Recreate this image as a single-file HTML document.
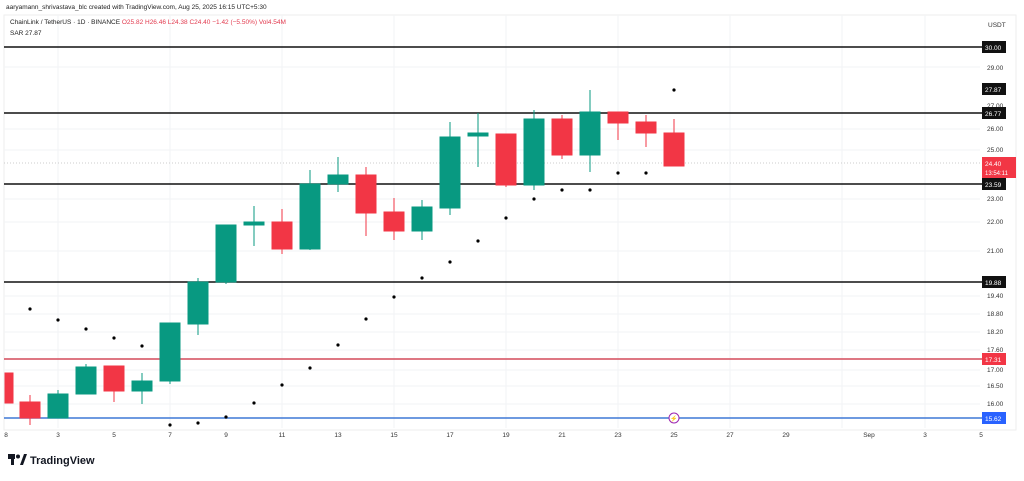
<!DOCTYPE html>
<html><head><meta charset="utf-8"><style>
body{margin:0;width:1024px;height:476px;background:#fff;overflow:hidden;font-family:"Liberation Sans",sans-serif}
svg text{font-family:"Liberation Sans",sans-serif}
</style></head><body>
<svg width="1024" height="476" viewBox="0 0 1024 476" xmlns="http://www.w3.org/2000/svg">
<text x="6" y="9" font-size="6.5" fill="#222">aaryamann_shrivastava_blc created with TradingView.com, Aug 25, 2025 16:15 UTC+5:30</text>
<rect x="4" y="15" width="1012" height="415" fill="none" stroke="#eee"/>
<g stroke="#f2f3f5" stroke-width="1">
<line x1="58" y1="15" x2="58" y2="428"/><line x1="170" y1="15" x2="170" y2="428"/><line x1="282" y1="15" x2="282" y2="428"/><line x1="394" y1="15" x2="394" y2="428"/><line x1="506" y1="15" x2="506" y2="428"/><line x1="618" y1="15" x2="618" y2="428"/><line x1="730" y1="15" x2="730" y2="428"/><line x1="842" y1="15" x2="842" y2="428"/><line x1="925" y1="15" x2="925" y2="428"/>
<line x1="4" y1="67" x2="980" y2="67"/><line x1="4" y1="129" x2="980" y2="129"/><line x1="4" y1="150" x2="980" y2="150"/><line x1="4" y1="199" x2="980" y2="199"/><line x1="4" y1="222" x2="980" y2="222"/><line x1="4" y1="251" x2="980" y2="251"/><line x1="4" y1="296" x2="980" y2="296"/><line x1="4" y1="314" x2="980" y2="314"/><line x1="4" y1="332" x2="980" y2="332"/><line x1="4" y1="350" x2="980" y2="350"/><line x1="4" y1="370" x2="980" y2="370"/><line x1="4" y1="386" x2="980" y2="386"/><line x1="4" y1="404" x2="980" y2="404"/>
</g>
<text x="10" y="24" font-size="6.5" fill="#222">ChainLink / TetherUS · 1D · BINANCE <tspan fill="#e23a4e">O25.82 H26.46 L24.38 C24.40 −1.42 (−5.50%) Vol4.54M</tspan></text>
<text x="10" y="35" font-size="6.5" fill="#222">SAR 27.87</text>
<line x1="4" y1="163" x2="980" y2="163" stroke="#ccc" stroke-dasharray="1,2"/>
<g stroke-width="1.4">
<line x1="4" y1="47" x2="982" y2="47" stroke="#111"/>
<line x1="4" y1="113" x2="982" y2="113" stroke="#111"/>
<line x1="4" y1="184" x2="982" y2="184" stroke="#111"/>
<line x1="4" y1="282" x2="982" y2="282" stroke="#111"/>
<line x1="4" y1="359" x2="982" y2="359" stroke="#d44a5a"/>
<line x1="4" y1="418" x2="982" y2="418" stroke="#3f78d6"/>
</g>
<g stroke-width="1">
<!-- candles: x, bodyTop, bodyBot, wickTop, wickBot, color -->
<g fill="#f23645" stroke="#f23645"><rect x="5" y="373" width="8" height="30"/></g>
<g fill="#f23645" stroke="#f23645"><line x1="30" y1="395" x2="30" y2="425"/><rect x="20" y="402" width="20" height="16"/></g>
<g fill="#089981" stroke="#089981"><line x1="58" y1="390" x2="58" y2="418"/><rect x="48" y="394" width="20" height="24"/></g>
<g fill="#089981" stroke="#089981"><line x1="86" y1="364" x2="86" y2="394"/><rect x="76" y="367" width="20" height="27"/></g>
<g fill="#f23645" stroke="#f23645"><line x1="114" y1="366" x2="114" y2="402"/><rect x="104" y="366" width="20" height="25"/></g>
<g fill="#089981" stroke="#089981"><line x1="142" y1="373" x2="142" y2="404"/><rect x="132" y="381" width="20" height="10"/></g>
<g fill="#089981" stroke="#089981"><line x1="170" y1="323" x2="170" y2="384"/><rect x="160" y="323" width="20" height="58"/></g>
<g fill="#089981" stroke="#089981"><line x1="198" y1="278" x2="198" y2="335"/><rect x="188" y="282" width="20" height="42"/></g>
<g fill="#089981" stroke="#089981"><line x1="226" y1="225" x2="226" y2="284"/><rect x="216" y="225" width="20" height="57"/></g>
<g fill="#089981" stroke="#089981"><line x1="254" y1="206" x2="254" y2="246"/><rect x="244" y="222" width="20" height="3"/></g>
<g fill="#f23645" stroke="#f23645"><line x1="282" y1="209" x2="282" y2="254"/><rect x="272" y="222" width="20" height="27"/></g>
<g fill="#089981" stroke="#089981"><line x1="310" y1="170" x2="310" y2="250"/><rect x="300" y="184" width="20" height="65"/></g>
<g fill="#089981" stroke="#089981"><line x1="338" y1="157" x2="338" y2="192"/><rect x="328" y="175" width="20" height="9"/></g>
<g fill="#f23645" stroke="#f23645"><line x1="366" y1="167" x2="366" y2="236"/><rect x="356" y="175" width="20" height="38"/></g>
<g fill="#f23645" stroke="#f23645"><line x1="394" y1="198" x2="394" y2="240"/><rect x="384" y="212" width="20" height="19"/></g>
<g fill="#089981" stroke="#089981"><line x1="422" y1="200" x2="422" y2="240"/><rect x="412" y="207" width="20" height="24"/></g>
<g fill="#089981" stroke="#089981"><line x1="450" y1="122" x2="450" y2="215"/><rect x="440" y="137" width="20" height="71"/></g>
<g fill="#089981" stroke="#089981"><line x1="478" y1="113" x2="478" y2="167"/><rect x="468" y="133" width="20" height="3"/></g>
<g fill="#f23645" stroke="#f23645"><line x1="506" y1="134" x2="506" y2="187"/><rect x="496" y="134" width="20" height="51"/></g>
<g fill="#089981" stroke="#089981"><line x1="534" y1="110" x2="534" y2="190"/><rect x="524" y="119" width="20" height="66"/></g>
<g fill="#f23645" stroke="#f23645"><line x1="562" y1="115" x2="562" y2="159"/><rect x="552" y="119" width="20" height="36"/></g>
<g fill="#089981" stroke="#089981"><line x1="590" y1="90" x2="590" y2="172"/><rect x="580" y="112" width="20" height="43"/></g>
<g fill="#f23645" stroke="#f23645"><line x1="618" y1="112" x2="618" y2="140"/><rect x="608" y="112" width="20" height="11"/></g>
<g fill="#f23645" stroke="#f23645"><line x1="646" y1="115" x2="646" y2="147"/><rect x="636" y="122" width="20" height="11"/></g>
<g fill="#f23645" stroke="#f23645"><line x1="674" y1="119" x2="674" y2="166"/><rect x="664" y="133" width="20" height="33"/></g>
</g>
<g fill="#000">
<circle cx="30" cy="309" r="1.6"/><circle cx="58" cy="320" r="1.6"/><circle cx="86" cy="329" r="1.6"/><circle cx="114" cy="338" r="1.6"/><circle cx="142" cy="346" r="1.6"/><circle cx="170" cy="425" r="1.6"/><circle cx="198" cy="423" r="1.6"/><circle cx="226" cy="417" r="1.6"/><circle cx="254" cy="403" r="1.6"/><circle cx="282" cy="385" r="1.6"/><circle cx="310" cy="368" r="1.6"/><circle cx="338" cy="345" r="1.6"/><circle cx="366" cy="319" r="1.6"/><circle cx="394" cy="297" r="1.6"/><circle cx="422" cy="278" r="1.6"/><circle cx="450" cy="262" r="1.6"/><circle cx="478" cy="241" r="1.6"/><circle cx="506" cy="218" r="1.6"/><circle cx="534" cy="199" r="1.6"/><circle cx="562" cy="190" r="1.6"/><circle cx="590" cy="190" r="1.6"/><circle cx="618" cy="173" r="1.6"/><circle cx="646" cy="173" r="1.6"/><circle cx="674" cy="90" r="1.6"/>
</g>
<circle cx="674" cy="418" r="5" fill="#fff" stroke="#9c27b0"/><text x="674" y="420.5" font-size="6" fill="#9c27b0" text-anchor="middle">⚡</text>
<g font-size="6.5" fill="#333">
<text x="988" y="27">USDT</text>
<text x="987" y="70">29.00</text><text x="987" y="108">27.00</text><text x="987" y="131">26.00</text><text x="987" y="152">25.00</text><text x="987" y="201">23.00</text><text x="987" y="224">22.00</text><text x="987" y="253">21.00</text><text x="987" y="298">19.40</text><text x="987" y="316">18.80</text><text x="987" y="334">18.20</text><text x="987" y="352">17.60</text><text x="987" y="372">17.00</text><text x="987" y="388">16.50</text><text x="987" y="406">16.00</text>
</g>
<g font-size="6.5" fill="#fff">
<rect x="982" y="41" width="24" height="12" fill="#111"/><text x="985" y="50">30.00</text>
<rect x="982" y="83" width="24" height="12" fill="#111"/><text x="985" y="92">27.87</text>
<rect x="982" y="107" width="24" height="12" fill="#111"/><text x="985" y="116">26.77</text>
<rect x="982" y="157" width="34" height="21" fill="#f23645"/><text x="985" y="166">24.40</text><text x="985" y="175" font-size="6">13:54:11</text>
<rect x="982" y="178" width="24" height="12" fill="#111"/><text x="985" y="187">23.59</text>
<rect x="982" y="276" width="24" height="12" fill="#111"/><text x="985" y="285">19.88</text>
<rect x="982" y="353" width="24" height="12" fill="#f23645"/><text x="985" y="362">17.31</text>
<rect x="982" y="412" width="24" height="12" fill="#2962ff"/><text x="985" y="421">15.62</text>
</g>
<g font-size="6.5" fill="#333" text-anchor="middle">
<text x="6" y="437">8</text><text x="58" y="437">3</text><text x="114" y="437">5</text><text x="170" y="437">7</text><text x="226" y="437">9</text><text x="282" y="437">11</text><text x="338" y="437">13</text><text x="394" y="437">15</text><text x="450" y="437">17</text><text x="506" y="437">19</text><text x="562" y="437">21</text><text x="618" y="437">23</text><text x="674" y="437">25</text><text x="730" y="437">27</text><text x="786" y="437">29</text><text x="869" y="437">Sep</text><text x="925" y="437">3</text><text x="981" y="437">5</text>
</g>
<g transform="translate(8,454)">
<rect x="0" y="0" width="7" height="5" fill="#131722"/><rect x="3" y="0" width="3" height="11" fill="#131722"/><circle cx="10" cy="2.5" r="2" fill="#131722"/><path d="M12 11 L16 0 L19 0 L15 11 Z" fill="#131722"/>
<text x="22" y="10" font-size="11" font-weight="bold" fill="#131722">TradingView</text>
</g>
</svg>
</body></html>
